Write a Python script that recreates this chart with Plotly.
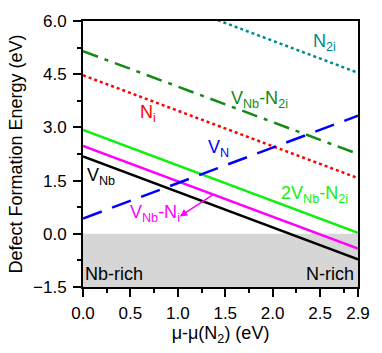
import plotly.graph_objects as go

# chemical potential range (eV)
mu = [0.0, 2.9]

# formation energies at the two ends (eV)
e_n2i = [7.45, 4.54]
e_vnb_n2i = [5.15, 2.25]
e_ni = [4.47, 1.57]
e_2vnb_n2i = [2.93, 0.03]
e_vnb_ni = [2.48, -0.42]
e_vnb = [2.18, -0.72]
e_vn = [0.43, 3.33]

font = "Liberation Sans, Arial, sans-serif"

fig = go.Figure()

# grey forbidden region below zero
fig.add_shape(type="rect", xref="x", yref="y", x0=0, x1=2.9, y0=-1.5, y1=0,
              fillcolor="#d6d6d6", line_width=0, layer="below")

series = [
    (e_n2i, "#008b8b", "dot"),
    (e_vnb_n2i, "#138a13", "16px,7px,4px,7px"),
    (e_ni, "#ff0000", "dot"),
    (e_2vnb_n2i, "#11ee11", "solid"),
    (e_vnb_ni, "#ff00ff", "solid"),
    (e_vnb, "#000000", "solid"),
    (e_vn, "#0000ff", "20px,11px"),
]
for ys, col, dash in series:
    fig.add_trace(go.Scatter(x=mu, y=ys, mode="lines", showlegend=False,
                             line={"color": col, "width": 2.5, "dash": dash}))

labels = [
    (2.55, 5.4, "N<sub>2i</sub>", "#008b8b"),
    (1.86, 3.8, "V<sub>Nb</sub>-N<sub>2i</sub>", "#138a13"),
    (0.69, 3.4, "N<sub>i</sub>", "#ff0000"),
    (1.43, 2.4, "V<sub>N</sub>", "#0000ff"),
    (0.19, 1.62, "V<sub>Nb</sub>", "#000000"),
    (2.44, 1.12, "2V<sub>Nb</sub>-N<sub>2i</sub>", "#11ee11"),
    (0.76, 0.58, "V<sub>Nb</sub>-N<sub>i</sub>", "#ff00ff"),
    (0.33, -1.12, "Nb-rich", "#000000"),
    (2.6, -1.12, "N-rich", "#000000"),
]
for lx, ly, txt, col in labels:
    fig.add_annotation(x=lx, y=ly, text=txt, showarrow=False,
                       font={"color": col, "size": 18, "family": font})

fig.add_annotation(x=1.02, y=0.49, ax=1.38, ay=1.12, axref="x", ayref="y",
                   text="", showarrow=True, arrowhead=2, arrowsize=1,
                   arrowwidth=1.5, arrowcolor="#ff00ff")

axis_common = dict(showline=True, linecolor="black", linewidth=2, mirror=True,
                   ticks="outside", ticklen=8, tickwidth=2, tickcolor="black",
                   showgrid=False, zeroline=False,
                   tickfont={"size": 17, "family": font, "color": "black"})
minor_common = {"ticks": "outside", "ticklen": 4, "tickwidth": 2, "tickcolor": "black"}

fig.update_xaxes(range=[0, 2.9], tickvals=[0, 0.5, 1.0, 1.5, 2.0, 2.5, 2.9],
                 ticktext=["0.0", "0.5", "1.0", "1.5", "2.0", "2.5", "2.9"],
                 minor=dict(tickvals=[0.25, 0.75, 1.25, 1.75, 2.25, 2.75], **minor_common),
                 ticklabelstandoff=2,
                 title={"text": "μ-μ(N<sub>2</sub>) (eV)", "standoff": 4,
                        "font": {"size": 18, "family": font, "color": "black"}},
                 **axis_common)
fig.update_yaxes(range=[-1.5, 6.0], tickvals=[-1.5, 0, 1.5, 3.0, 4.5, 6.0],
                 tickformat=".1f",
                 minor=dict(tickvals=[-0.75, 0.75, 2.25, 3.75, 5.25], **minor_common),
                 ticklabelstandoff=3,
                 title={"text": "Defect Formation Energy (eV)", "standoff": 6,
                        "font": {"size": 18, "family": font, "color": "black"}},
                 **axis_common)

fig.update_layout(width=382, height=353, margin={"l": 83, "r": 16, "t": 14, "b": 66},
                  plot_bgcolor="white", paper_bgcolor="white",
                  font={"family": font})

# drop the page's default body margin so the figure sits at the window origin
fig.write_html("out.html", config={"displayModeBar": False},
               post_script="document.body.style.margin='0';")
